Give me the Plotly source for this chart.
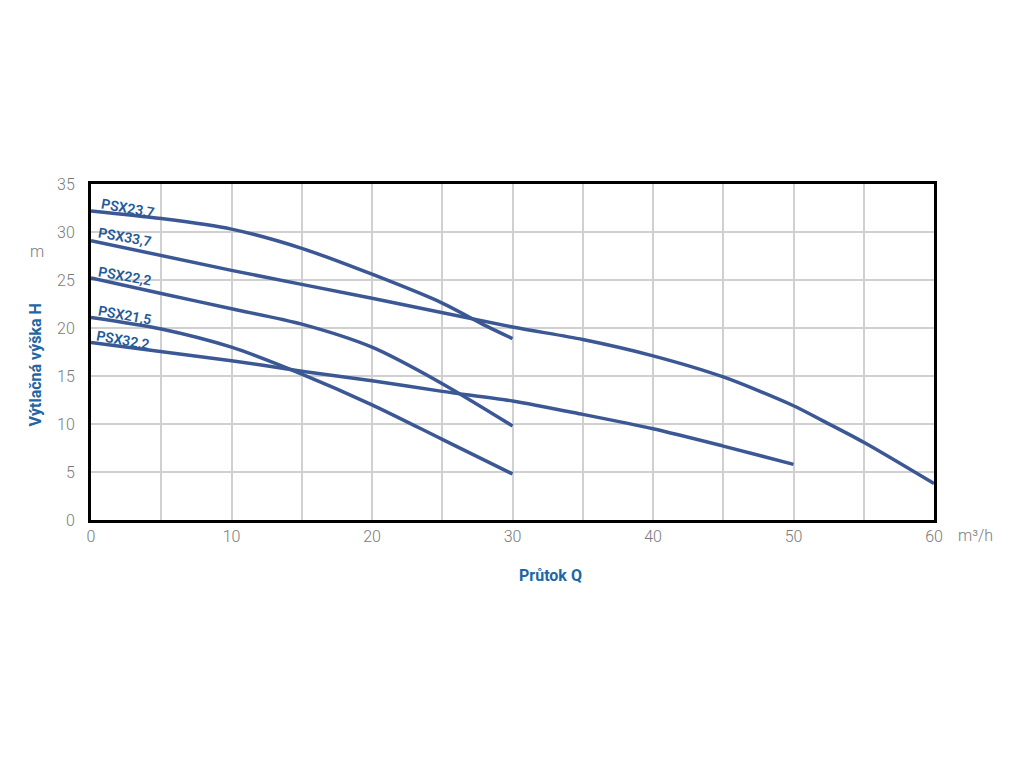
import plotly.graph_objects as go

series_names = ["PSX23,7", "PSX33,7", "PSX22,2", "PSX21,5", "PSX32,2"]
q_23_7 = [0, 5, 10, 15, 20, 25, 28, 30]
h_23_7 = [32.2, 31.4, 30.3, 28.3, 25.6, 22.6, 20.3, 18.9]
q_33_7 = [0, 10, 20, 30, 35, 40, 45, 50, 52, 55, 60]
h_33_7 = [29.1, 26.0, 23.1, 20.1, 18.8, 17.1, 14.9, 11.9, 10.4, 8.1, 3.8]
q_22_2 = [0, 5, 10, 15, 20, 25, 30]
h_22_2 = [25.2, 23.6, 22.0, 20.4, 18.0, 14.2, 9.8]
q_21_5 = [0, 5, 10, 15, 20, 25, 30]
h_21_5 = [21.1, 19.9, 18.0, 15.2, 12.0, 8.4, 4.8]
q_32_2 = [0, 10, 15, 20, 25, 30, 35, 40, 45, 50]
h_32_2 = [18.5, 16.6, 15.5, 14.5, 13.4, 12.4, 11.0, 9.5, 7.7, 5.8]

label_x = [2.6, 2.4, 2.4, 2.4, 2.3]
label_y = [32.5, 29.5, 25.4, 21.4, 18.7]

x_ticks = [0, 10, 20, 30, 40, 50, 60]
y_ticks = [0, 5, 10, 15, 20, 25, 30, 35]

line_color = "#3b5894"
label_color = "#1f5b98"
title_color = "#1e66a4"
tick_color = "#7a7a7a"

fig = go.Figure()
for name, q, h in zip(series_names,
                      [q_23_7, q_33_7, q_22_2, q_21_5, q_32_2],
                      [h_23_7, h_33_7, h_22_2, h_21_5, h_32_2]):
    fig.add_trace(go.Scatter(x=q, y=h, mode="lines", name=name,
                             line=dict(color=line_color, width=3.5, shape="spline", smoothing=0.8)))

for name, lx, ly in zip(series_names, label_x, label_y):
    fig.add_annotation(x=lx, y=ly, text=name, showarrow=False,
                       textangle=10, font=dict(family="Roboto", size=14, weight=600, color=label_color))

fig.add_annotation(xref="paper", yref="paper", x=1.0, y=0, xanchor="left", yanchor="top",
                   xshift=22, yshift=-4, text="m³/h", showarrow=False,
                   font=dict(family="Roboto", size=16, weight=300, color=tick_color))
fig.add_annotation(xref="paper", yref="paper", x=0, y=0.80, xanchor="center", yanchor="middle",
                   xshift=-54, text="m", showarrow=False,
                   font=dict(family="Roboto", size=16, weight=300, color=tick_color))
fig.add_annotation(xref="paper", yref="paper", x=0, y=0.46, xanchor="center", yanchor="middle",
                   xshift=-56, text="<b>Výtlačná výška H</b>", showarrow=False, textangle=-90,
                   font=dict(family="Roboto", size=16, color=title_color))
fig.add_annotation(xref="paper", yref="paper", x=0.545, y=0, xanchor="center", yanchor="middle",
                   yshift=-55, text="<b>Průtok Q</b>", showarrow=False,
                   font=dict(family="Roboto", size=16, color=title_color))

fig.update_layout(
    width=1024, height=768,
    margin=dict(l=83, r=98, t=176, b=256, autoexpand=False),
    paper_bgcolor="white", plot_bgcolor="white",
    showlegend=False,
    font=dict(family="Roboto", color=tick_color, size=16, weight=300),
    xaxis=dict(range=[0, 60], tickvals=x_ticks, showgrid=True, gridcolor="#d0d0d0",
               gridwidth=1.5,
               minor=dict(dtick=5, tick0=0, showgrid=True, gridcolor="#d0d0d0", gridwidth=1.5),
               showline=True, linecolor="black", linewidth=3, mirror=True,
               tickfont=dict(weight=300, size=16, color=tick_color),
               zeroline=False, ticks="", automargin=False, ticklabelstandoff=0),
    yaxis=dict(range=[0, 35], tickvals=y_ticks, showgrid=True, gridcolor="#d0d0d0",
               gridwidth=1.5,
               showline=True, linecolor="black", linewidth=3, mirror=True,
               tickfont=dict(weight=300, size=16, color=tick_color),
               zeroline=False, ticks="", ticklabelstandoff=10, automargin=False),
)

fig.write_html("out.html")
